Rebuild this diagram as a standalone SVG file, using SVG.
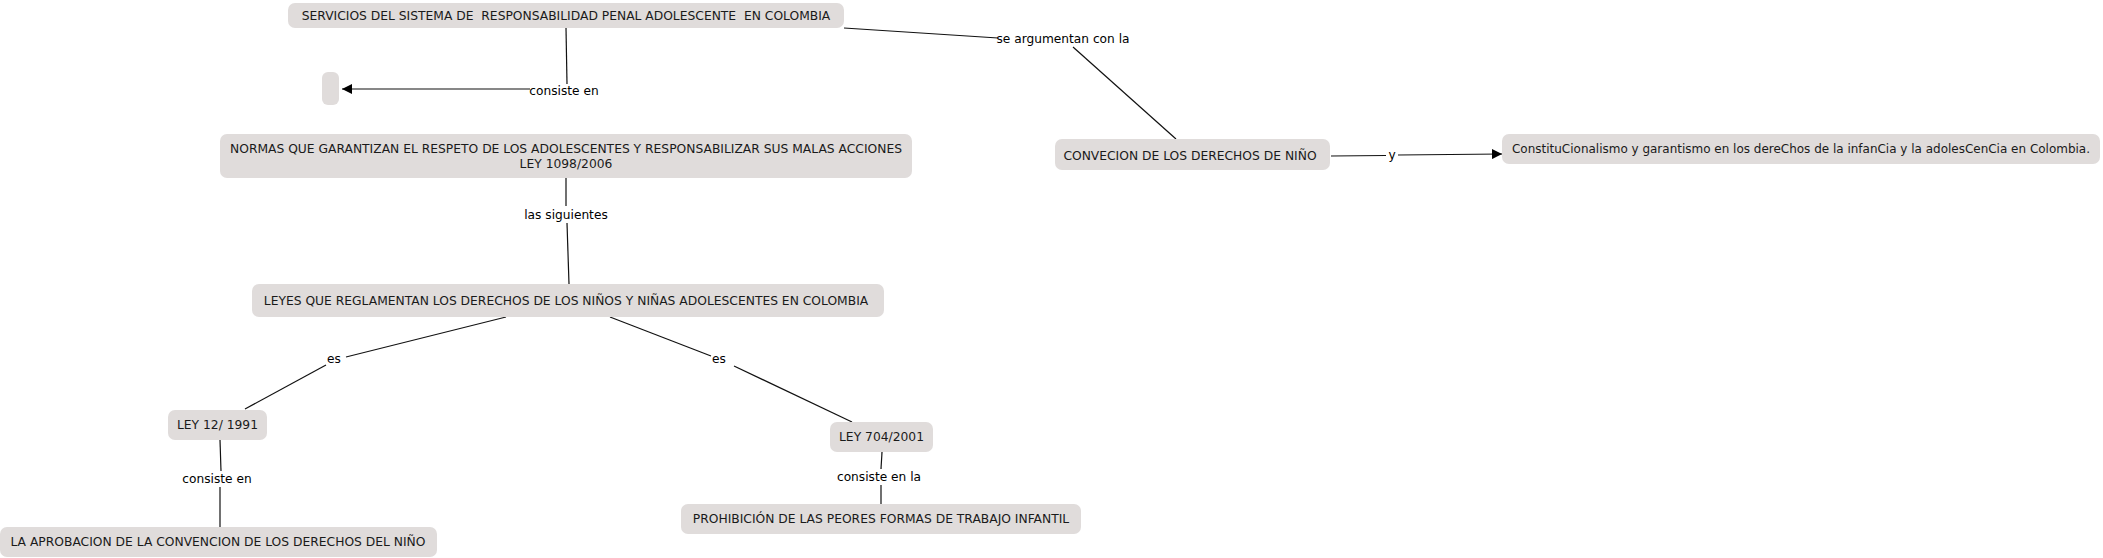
<svg xmlns="http://www.w3.org/2000/svg" width="2103" height="558" viewBox="0 0 2103 558">
<style>
.node rect{fill:#e0dcdb;stroke:none}
.node text{font-family:"DejaVu Sans",Verdana,sans-serif;font-size:12.3px;fill:#1a1a1a;text-anchor:middle;dominant-baseline:central}
.conn line{stroke:#111;stroke-width:1.2}
.lbl{font-family:"DejaVu Sans",Verdana,sans-serif;font-size:12.2px;fill:#000;text-anchor:middle;dominant-baseline:central}
</style>
<defs>
<marker id="arr" viewBox="0 0 10 10" refX="10" refY="5" markerWidth="10" markerHeight="10" markerUnits="userSpaceOnUse" orient="auto">
<path d="M0,0 L10,5 L0,10 z" fill="#000"/>
</marker>
</defs>
<rect width="2103" height="558" fill="#fff"/>
<g id="connectors" class="conn">
<line x1="566" y1="28" x2="567" y2="84"/>
<line x1="530" y1="89" x2="342" y2="89" marker-end="url(#arr)"/>
<text class="lbl" x="564" y="91">consiste en</text>
<line x1="844" y1="28" x2="998" y2="38"/>
<text class="lbl" x="1063" y="39">se argumentan con la</text>
<line x1="1073" y1="47" x2="1176" y2="139"/>
<line x1="1331" y1="156" x2="1386" y2="155.5"/>
<text class="lbl" x="1392" y="155">y</text>
<line x1="1398" y1="155" x2="1502" y2="154" marker-end="url(#arr)"/>
<line x1="566" y1="178" x2="566" y2="206"/>
<text class="lbl" x="566" y="215">las siguientes</text>
<line x1="567" y1="223" x2="569" y2="284"/>
<line x1="506" y1="317" x2="346" y2="357"/>
<text class="lbl" x="334" y="359">es</text>
<line x1="326" y1="365" x2="245" y2="409"/>
<line x1="610" y1="317" x2="711" y2="356"/>
<text class="lbl" x="719" y="359">es</text>
<line x1="734" y1="366" x2="852" y2="422"/>
<line x1="220" y1="440" x2="221" y2="471"/>
<text class="lbl" x="217" y="479">consiste en</text>
<line x1="220" y1="487" x2="220" y2="527"/>
<line x1="882" y1="452" x2="881" y2="469"/>
<text class="lbl" x="879" y="477">consiste en la</text>
<line x1="881" y1="485" x2="881" y2="504"/>
</g>
<g id="n_servicios" class="node"><rect x="288" y="3" width="556" height="25" rx="7"/><text x="566" y="15.5" xml:space="preserve">SERVICIOS DEL SISTEMA DE  RESPONSABILIDAD PENAL ADOLESCENTE  EN COLOMBIA</text></g>
<g id="n_empty" class="node"><rect x="322" y="72" width="17" height="33" rx="6"/></g>
<g id="n_normas" class="node"><rect x="220" y="134" width="692" height="44" rx="7"/><text x="566" y="149">NORMAS QUE GARANTIZAN EL RESPETO DE LOS ADOLESCENTES Y RESPONSABILIZAR SUS MALAS ACCIONES</text><text x="566" y="164">LEY 1098/2006</text></g>
<g id="n_leyes" class="node"><rect x="252" y="284" width="632" height="33" rx="7"/><text x="566" y="300.5">LEYES QUE REGLAMENTAN LOS DERECHOS DE LOS NIÑOS Y NIÑAS ADOLESCENTES EN COLOMBIA</text></g>
<g id="n_ley12" class="node"><rect x="168" y="410" width="99" height="30" rx="7"/><text x="217.5" y="425">LEY 12/ 1991</text></g>
<g id="n_ley704" class="node"><rect x="830" y="422" width="103" height="30" rx="7"/><text x="881.5" y="437">LEY 704/2001</text></g>
<g id="n_aprobacion" class="node"><rect x="0" y="527" width="437" height="30" rx="7"/><text x="218" y="542">LA APROBACION DE LA CONVENCION DE LOS DERECHOS DEL NIÑO</text></g>
<g id="n_prohibicion" class="node"><rect x="681" y="504" width="400" height="30" rx="7"/><text x="881" y="519">PROHIBICIÓN DE LAS PEORES FORMAS DE TRABAJO INFANTIL</text></g>
<g id="n_convecion" class="node"><rect x="1055" y="139" width="275" height="31" rx="7"/><text x="1190" y="155.5">CONVECION DE LOS DERECHOS DE NIÑO</text></g>
<g id="n_constitu" class="node"><rect x="1502" y="134" width="598" height="30" rx="7"/><text x="1801" y="149" style="font-size:11.9px" textLength="578" lengthAdjust="spacingAndGlyphs">ConstituCionalismo y garantismo en los dereChos de la infanCia y la adolesCenCia en Colombia.</text></g>
</svg>
